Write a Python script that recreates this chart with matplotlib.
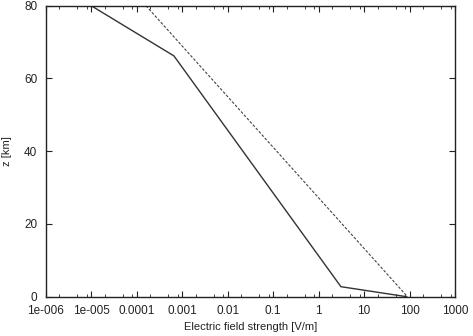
import matplotlib
matplotlib.use("Agg")
import matplotlib.pyplot as plt
from matplotlib.ticker import FixedLocator, FixedFormatter, LogLocator, NullFormatter

plt.rcParams['font.family'] = ['Liberation Sans', 'DejaVu Sans']

# solid profile (field strength vs altitude)
solid_e = [1.0e-5, 6.6e-4, 3.1, 86.0]
solid_z = [80.0, 66.2, 2.75, 0.0]

# dashed profile
dash_e = [1.6e-4, 90.0]
dash_z = [80.0, 0.0]

xtick_vals = [1e-6, 1e-5, 1e-4, 1e-3, 1e-2, 1e-1, 1, 10, 100, 1000]
xtick_labels = ["1e-006", "1e-005", "0.0001", "0.001", "0.01", "0.1", "1", "10", "100", "1000"]
ytick_vals = [0, 20, 40, 60, 80]

fig = plt.figure(figsize=(4.73, 3.36), dpi=100)
ax = fig.add_axes([0.0966, 0.117, 0.8654, 0.866])

ax.plot(solid_e, solid_z, color="#333333", lw=1.0)
ax.plot(dash_e, dash_z, color="#444444", lw=0.8, dashes=(2.5, 1.5))

ax.set_xscale("log")
ax.set_xlim(1e-6, 1000)
ax.set_ylim(0, 80)

ax.xaxis.set_major_locator(FixedLocator(xtick_vals))
ax.xaxis.set_major_formatter(FixedFormatter(xtick_labels))
# only a few minor marks survive at this size in the original
ax.xaxis.set_minor_locator(LogLocator(base=10, subs=[2, 5, 8], numticks=20))
ax.xaxis.set_minor_formatter(NullFormatter())
ax.set_yticks(ytick_vals)

ax.tick_params(which="both", direction="in", top=True, right=True,
               labelsize=8.5, colors="#222222", pad=6)
ax.tick_params(which="major", length=4, width=0.8)
ax.tick_params(which="minor", length=2, width=0.6)

for s in ax.spines.values():
    s.set_linewidth(1.0)
    s.set_color("#222222")

ax.set_xlabel("Electric field strength [V/m]", fontsize=8, color="#222222", labelpad=3.5)
ax.set_ylabel("z [km]", fontsize=8, color="#222222", labelpad=9)

fig.savefig("out.png", dpi=100)
